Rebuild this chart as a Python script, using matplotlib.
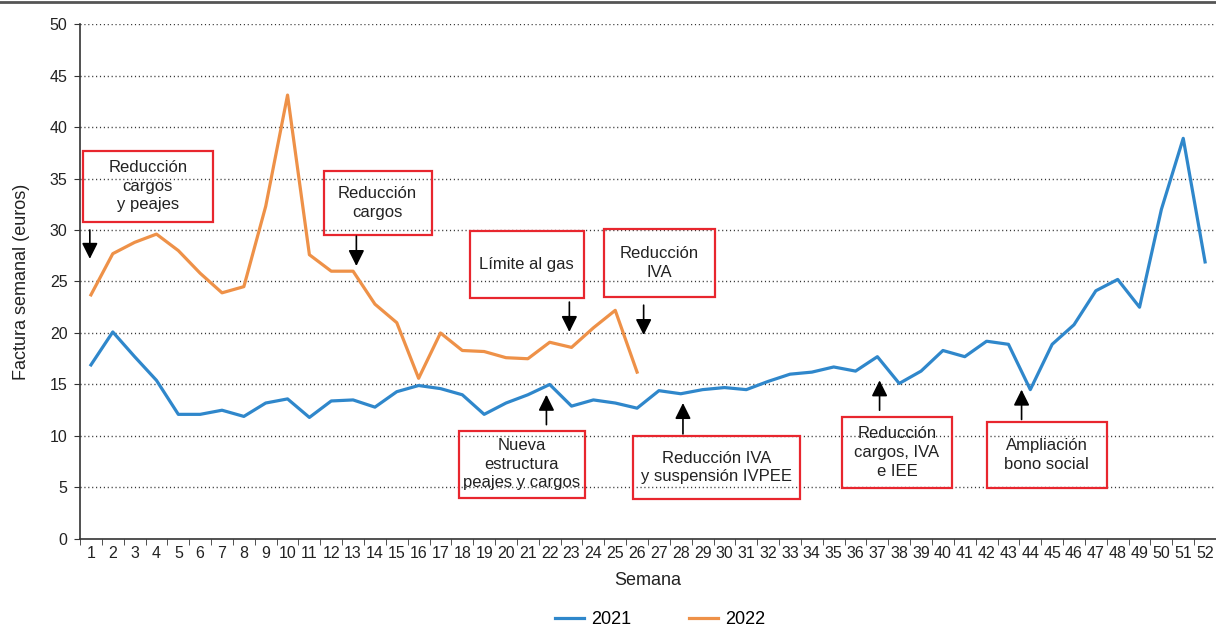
import matplotlib
matplotlib.use('Agg')
import matplotlib.pyplot as plt
from matplotlib.patches import Rectangle
from matplotlib.lines import Line2D

plt.rcParams['font.family'] = ['Liberation Sans', 'DejaVu Sans']

# Datos: factura semanal (euros) por semana
semanas = list(range(1, 53))
f2021 = [16.9, 20.1, 17.7, 15.4, 12.1, 12.1, 12.5, 11.9, 13.2, 13.6,
         11.8, 13.4, 13.5, 12.8, 14.3, 14.9, 14.6, 14.0, 12.1, 13.2,
         14.0, 15.0, 12.9, 13.5, 13.2, 12.7, 14.4, 14.1, 14.5, 14.7,
         14.5, 15.3, 16.0, 16.2, 16.7, 16.3, 17.7, 15.1, 16.3, 18.3,
         17.7, 19.2, 18.9, 14.5, 18.9, 20.8, 24.1, 25.2, 22.5, 32.0,
         38.9, 26.9]
semanas_2022 = list(range(1, 27))
f2022 = [23.7, 27.7, 28.8, 29.6, 28.0, 25.8, 23.9, 24.5, 32.3, 43.1,
         27.6, 26.0, 26.0, 22.8, 21.0, 15.6, 20.0, 18.3, 18.2, 17.6,
         17.5, 19.1, 18.6, 20.5, 22.2, 16.2]

# Anotaciones: texto, caja (x0, x1, y0, y1), flecha (x, y_cola, y_punta)
notas = ['Reducción\ncargos\ny peajes', 'Reducción\ncargos', 'Límite al gas',
         'Reducción\nIVA', 'Nueva\nestructura\npeajes y cargos',
         'Reducción IVA\ny suspensión IVPEE', 'Reducción\ncargos, IVA\ne IEE',
         'Ampliación\nbono social']
cajas = [(0.63, 6.58, 30.8, 37.7), (11.65, 16.6, 29.5, 35.7),
         (18.35, 23.55, 23.4, 29.9), (24.5, 29.55, 23.5, 30.1),
         (17.85, 23.6, 4.0, 10.5), (25.8, 33.45, 3.9, 10.0),
         (35.4, 40.4, 4.95, 11.85), (42.0, 47.5, 4.95, 11.35)]
flechas = [(0.95, 30.0, 27.2), (13.15, 29.4, 26.5), (22.9, 23.0, 20.1),
           (26.3, 22.7, 19.8), (21.85, 11.1, 14.0), (28.1, 10.2, 13.2),
           (37.1, 12.5, 15.4), (43.6, 11.6, 14.5)]

fig = plt.figure(figsize=(12.16, 6.27), dpi=100)
ax = fig.add_axes([0.0658, 0.1404, 0.9342, 0.8213])

ax.plot(semanas, f2021, color='#2f87cb', lw=2.3, label='2021', zorder=3)
ax.plot(semanas_2022, f2022, color='#ee9148', lw=2.3, label='2022', zorder=3)

ax.set_xlim(0.5, 52.5)
ax.set_ylim(0, 50)
ax.set_yticks(range(0, 51, 5))
ax.set_xticks(semanas)
ax.set_xticks([s + 0.5 for s in range(0, 53)], minor=True)
ax.tick_params(axis='x', which='major', length=0, labelsize=11.5, pad=5)
ax.tick_params(axis='x', which='minor', length=4, color='#333333')
ax.tick_params(axis='y', length=4, labelsize=11.5, color='#333333', pad=5)
for lab in ax.get_xticklabels() + ax.get_yticklabels():
    lab.set_color('#222222')

for y in range(5, 51, 5):
    ax.axhline(y, color='#333333', lw=1, linestyle=(0, (0.8, 2.0)), zorder=1)

for s in ['top', 'right']:
    ax.spines[s].set_visible(False)
for s in ['left', 'bottom']:
    ax.spines[s].set_color('#333333')
    ax.spines[s].set_linewidth(1.2)

ax.set_xlabel('Semana', fontsize=13, color='#222222', labelpad=8)
ax.set_ylabel('Factura semanal (euros)', fontsize=13, color='#222222', labelpad=14)

for txt, (x0, x1, y0, y1), (xa, yt, yh) in zip(notas, cajas, flechas):
    ax.add_patch(Rectangle((x0, y0), x1 - x0, y1 - y0, fill=False,
                           edgecolor='#e8262e', lw=1.6, zorder=4))
    ax.text((x0 + x1) / 2, (y0 + y1) / 2, txt, ha='center', va='center',
            fontsize=12, color='#222222', linespacing=1.3, zorder=5)
    ax.annotate('', xy=(xa, yh), xytext=(xa, yt),
                arrowprops=dict(arrowstyle='-|>', color='black', lw=1.2,
                                mutation_scale=24, shrinkA=0, shrinkB=0),
                zorder=5)

fig.add_artist(Line2D([0, 1], [0.997, 0.997], color='#555555', lw=2,
                      transform=fig.transFigure))

fig.legend(loc='center', bbox_to_anchor=(0.543, 0.012), ncol=2, frameon=False,
           fontsize=13, handlelength=1.6, handletextpad=0.4, columnspacing=3.2)

fig.savefig('out.png', dpi=100)
